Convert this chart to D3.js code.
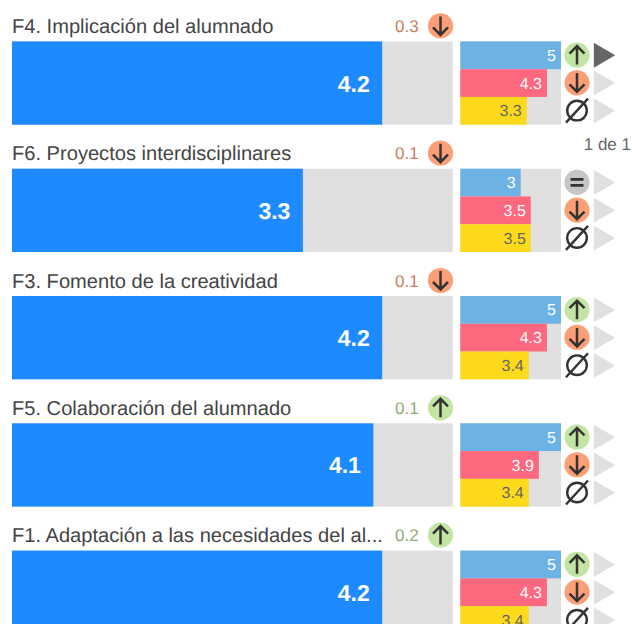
<!DOCTYPE html>
<html><head><meta charset="utf-8">
<script src="https://cdn.jsdelivr.net/npm/d3@7"></script>
<style>html,body{margin:0;padding:0;background:#fff;overflow:hidden}svg{display:block;font-family:"Liberation Sans",Arial,sans-serif;text-rendering:geometricPrecision}</style>
</head><body><div id="chart"></div>
<script>
const categories = ["F4. Implicación del alumnado","F6. Proyectos interdisciplinares","F3. Fomento de la creatividad","F5. Colaboración del alumnado","F1. Adaptación a las necesidades del al..."];
const mainValues = [4.2,3.3,4.2,4.1,4.2];
const deltaValues = ["0.3","0.1","0.1","0.1","0.2"];
const deltaDirs = ["down","down","down","up","up"];
const blueValues = [5,3,5,5,5];
const redValues = [4.3,3.5,4.3,3.9,4.3];
const yellowValues = [3.3,3.5,3.4,3.4,3.4];
const blueDirs = ["up","equal","up","up","up"];
const redDirs = ["down","down","down","down","down"];
const pageLabel = "1 de 1";

const W=632,H=624;
const svg=d3.select("#chart").append("svg").attr("width",W).attr("height",H);
const maxV=5;
const xMain=d3.scaleLinear().domain([0,maxV]).range([12,452.7]);
const xSmall=d3.scaleLinear().domain([0,maxV]).range([460.3,561]);
const rowTop=d3.scaleBand().domain(d3.range(categories.length)).range([41.4,41.4+127.3*4+83.3]).paddingInner(44/127.3).paddingOuter(0).align(0);
const sub=d3.scaleBand().domain([0,1,2]).range([0,rowTop.bandwidth()]);
const colors={up:"#c2e5a4",down:"#fd9f76",equal:"#c6c6c6"};
const deltaText={up:"#8fae70",down:"#c9805e"};
const ink="#333";

function arrow(g,cx,cy,dir){
  const s=dir==="up"?-1:1;
  g.append("path").attr("d",`M${cx} ${cy-9.5*s}V${cy+9*s}M${cx-7.5} ${cy+1.5*s}L${cx} ${cy+9*s}L${cx+7.5} ${cy+1.5*s}`)
   .attr("fill","none").attr("stroke",ink).attr("stroke-width",2.5);
}
function badge(g,cx,cy,dir){
  if(dir==="none"){
    g.append("circle").attr("cx",cx).attr("cy",cy).attr("r",9.8).attr("fill","none").attr("stroke",ink).attr("stroke-width",2.4);
    g.append("path").attr("d",`M${cx-11} ${cy+12}L${cx+11} ${cy-12}`).attr("stroke",ink).attr("stroke-width",2.4);
    return;
  }
  g.append("circle").attr("cx",cx).attr("cy",cy).attr("r",12.6).attr("fill",colors[dir]);
  if(dir==="equal"){
    g.append("path").attr("d",`M${cx-6.5} ${cy-3}H${cx+6.5}M${cx-6.5} ${cy+3}H${cx+6.5}`).attr("stroke",ink).attr("stroke-width",2.6);
  } else arrow(g,cx,cy,dir);
}

categories.forEach((cat,i)=>{
  const top=rowTop(i),h=rowTop.bandwidth();
  const g=svg.append("g");
  g.append("text").attr("x",12).attr("y",top-8.5).attr("font-size",20.1).attr("fill","#444").text(cat);
  g.append("text").attr("x",395).attr("y",top-9.5).attr("font-size",17).attr("fill",deltaText[deltaDirs[i]]).text(deltaValues[i]);
  badge(g,440.5,top-15.5,deltaDirs[i]);
  g.append("rect").attr("x",xMain(0)).attr("y",top).attr("width",xMain(maxV)-xMain(0)).attr("height",h).attr("fill","#e0e0e0");
  g.append("rect").attr("x",xMain(0)).attr("y",top).attr("width",xMain(mainValues[i])-xMain(0)).attr("height",h).attr("fill","#1e8aff");
  g.append("text").attr("x",xMain(mainValues[i])-12.5).attr("y",top+h/2+8.5).attr("text-anchor","end").attr("font-size",23).attr("font-weight","bold").attr("fill","#fff").text(mainValues[i]);
  g.append("rect").attr("x",xSmall(0)).attr("y",top).attr("width",xSmall(maxV)-xSmall(0)).attr("height",h).attr("fill","#e0e0e0");
  const rows=[
    {v:blueValues[i],c:"#6cb2e4",t:"#fff",d:blueDirs[i],play:i===0},
    {v:redValues[i],c:"#fe687e",t:"#fff",d:redDirs[i],play:false},
    {v:yellowValues[i],c:"#fcd91a",t:"#666",d:"none",play:false}
  ];
  rows.forEach((r,k)=>{
    const y=top+sub(k),b=sub.bandwidth();
    g.append("rect").attr("x",xSmall(0)).attr("y",y).attr("width",xSmall(r.v)-xSmall(0)).attr("height",b).attr("fill",r.c);
    g.append("text").attr("x",xSmall(r.v)-5).attr("y",y+b/2+5.6).attr("text-anchor","end").attr("font-size",16).attr("fill",r.t).text(r.v);
    badge(g,577,y+b/2-0.2,r.d);
    g.append("path").attr("d",`M593.8 ${y+1.4}L615.2 ${y+b/2}L593.8 ${y+b-1.4}Z`).attr("fill",r.play?"#666":"#e0e0e0");
  });
});
svg.append("text").attr("x",631).attr("y",149.5).attr("text-anchor","end").attr("font-size",17).attr("fill","#666").text(pageLabel);
</script></body></html>
